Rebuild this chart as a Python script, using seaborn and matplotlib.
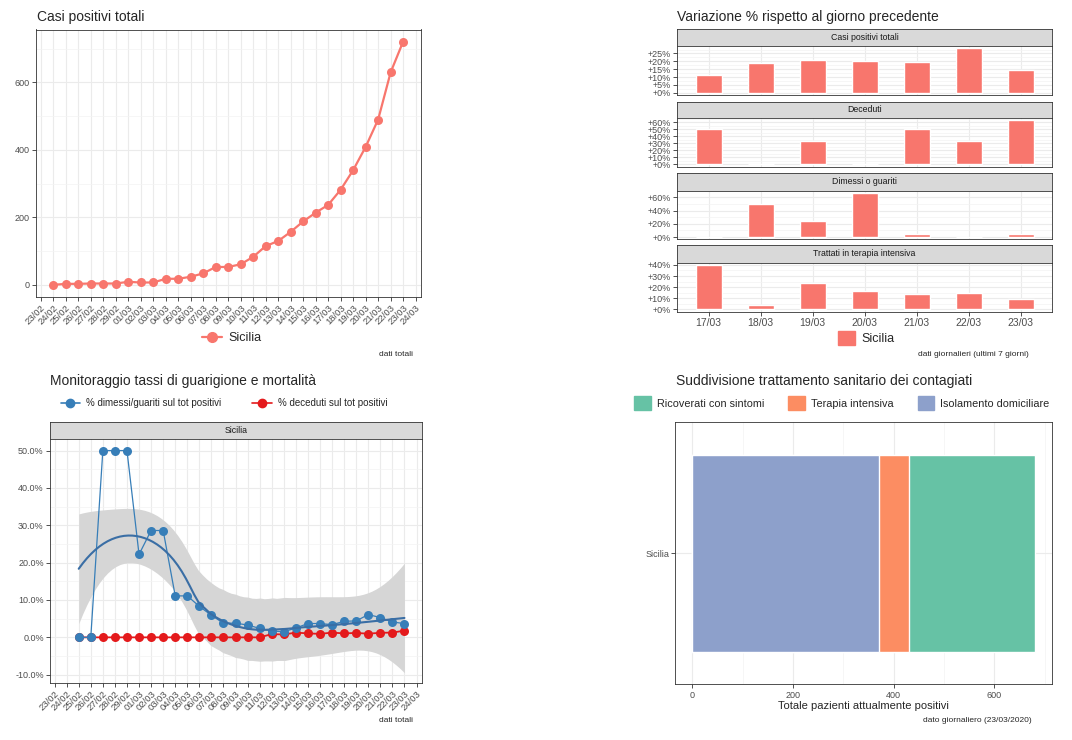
import numpy as np
import pandas as pd
import matplotlib
matplotlib.use('Agg')
import matplotlib.pyplot as plt
import matplotlib.dates as mdates
from matplotlib.ticker import MultipleLocator, FuncFormatter
from matplotlib.lines import Line2D
from matplotlib.patches import Patch
import seaborn as sns

sns.set_theme(style='white')
plt.rcParams['font.family'] = ['Liberation Sans', 'DejaVu Sans']

# ---- dati ----
giorni = pd.date_range('2020-02-24', '2020-03-23')
casi_totali = [0, 3, 3, 4, 4, 4, 9, 7, 7, 18, 18, 24, 34, 53, 53, 61, 83, 115, 130,
               157, 188, 214, 237, 282, 340, 409, 490, 630, 721]

giorni_tassi = pd.date_range('2020-02-25', '2020-03-23')
pct_guariti = [0, 0, 50, 50, 50, 22.2, 28.6, 28.6, 11.1, 11.1, 8.3, 5.9, 3.8, 3.8,
               3.3, 2.4, 1.7, 1.5, 2.5, 3.7, 3.7, 3.4, 4.3, 4.4, 6.1, 5.3, 4.1, 3.7]
pct_deceduti = [0, 0, 0, 0, 0, 0, 0, 0, 0, 0, 0, 0, 0, 0, 0, 0, 0.87, 0.77, 1.27,
                1.06, 0.93, 1.27, 1.06, 1.18, 0.98, 1.22, 1.27, 1.8]

giorni_var = ['17/03', '18/03', '19/03', '20/03', '21/03', '22/03', '23/03']
var_casi = [11.3, 19.0, 20.6, 20.3, 19.8, 28.5, 14.4]
var_deceduti = [50, 0, 33.3, 0, 50, 33.3, 62.5]
var_guariti = [0, 50, 25, 66.7, 4, 0, 4]
var_terapia = [40, 3.6, 24, 16.7, 14.3, 14.6, 9.1]

categorie = ['Ricoverati con sintomi', 'Terapia intensiva', 'Isolamento domiciliare']
pazienti = [250, 60, 371]
colori_cat = ['#66C2A5', '#FC8D62', '#8DA0CB']

ROSSO = '#F8766D'
W, H = 1072, 740
fig = plt.figure(figsize=(W / 100, H / 100), dpi=100)


def rect(x0, y0, x1, y1):
    return [x0 / W, 1 - y1 / H, (x1 - x0) / W, (y1 - y0) / H]


def stile_bw(ax):
    ax.set_facecolor('white')
    for s in ax.spines.values():
        s.set_visible(True)
        s.set_color('#333333')
        s.set_linewidth(0.6)
    ax.grid(True, which='major', color='#EBEBEB', lw=0.8)
    ax.grid(True, which='minor', color='#F3F3F3', lw=0.5)
    ax.tick_params(which='major', length=3, width=0.6, color='#333333', labelsize=6.5,
                   labelcolor='#4D4D4D', pad=1.5, left=True, bottom=True)
    ax.tick_params(which='minor', length=0)
    ax.set_axisbelow(True)
    ax.set_xlabel('')
    ax.set_ylabel('')


def striscia(x0, y0, x1, y1, testo):
    s = fig.add_axes(rect(x0, y0, x1, y1))
    s.set_facecolor('#D9D9D9')
    for sp in s.spines.values():
        sp.set_color('#333333')
        sp.set_linewidth(0.6)
    s.set_xticks([])
    s.set_yticks([])
    s.text(0.5, 0.5, testo, ha='center', va='center', fontsize=6.3, color='#1A1A1A',
           transform=s.transAxes)


def asse_date(ax):
    t0 = mdates.date2num(pd.Timestamp('2020-02-23'))
    ax.set_xlim(t0 - 0.38, t0 + 30.43)
    ax.xaxis.set_major_locator(mdates.DayLocator())
    ax.xaxis.set_major_formatter(mdates.DateFormatter('%d/%m'))
    ax.tick_params(axis='x', labelsize=6.8)
    for lab in ax.get_xticklabels():
        lab.set_rotation(45)
        lab.set_ha('right')
        lab.set_rotation_mode('anchor')


def loess(x, y, x_new, span=0.75):
    # loess locale di grado 2 (come geom_smooth) con banda di confidenza al 95%
    n = len(x)
    q = int(np.floor(span * n))

    def riga(x0):
        d = np.abs(x - x0)
        h = np.sort(d)[q - 1] * 1.0001
        w = np.clip(1 - (d / h) ** 3, 0, None) ** 3
        X = np.column_stack([np.ones(n), x - x0, (x - x0) ** 2])
        A = X.T @ (X * w[:, None])
        return np.linalg.solve(A, (X * w[:, None]).T)[0]

    L = np.array([riga(v) for v in x])
    res = y - L @ y
    M = (np.eye(n) - L).T @ (np.eye(n) - L)
    d1, d2 = np.trace(M), np.trace(M @ M)
    s = np.sqrt(res @ res / d1)
    df = d1 ** 2 / d2
    z = 1.959964
    tq = z + (z ** 3 + z) / (4 * df) + (5 * z ** 5 + 16 * z ** 3 + 3 * z) / (96 * df ** 2)
    Lg = np.array([riga(v) for v in x_new])
    fit = Lg @ y
    se = s * np.sqrt((Lg ** 2).sum(1))
    return fit, fit - tq * se, fit + tq * se


# ---- Casi positivi totali ----
ax1 = fig.add_axes(rect(36, 29.5, 421, 297))
sns.lineplot(x=giorni, y=casi_totali, color=ROSSO, lw=1.6, marker='o', markersize=6.5,
             markeredgewidth=0, ax=ax1)
stile_bw(ax1)
asse_date(ax1)
ax1.set_ylim(-36, 757)
ax1.yaxis.set_major_locator(MultipleLocator(200))
ax1.yaxis.set_minor_locator(MultipleLocator(100))
fig.text(37 / W, 1 - 17 / H, 'Casi positivi totali', fontsize=10, va='center', ha='left')
fig.legend(handles=[Line2D([], [], color=ROSSO, lw=1.6, marker='o', markersize=7)],
           labels=['Sicilia'], loc='center', bbox_to_anchor=(232 / W, 1 - 338 / H),
           frameon=False, fontsize=9, handlelength=1.6, handletextpad=0.5)
fig.text(413 / W, 1 - 355 / H, 'dati totali', fontsize=6, ha='right', va='center')

# ---- Variazione % ----
fig.text(677 / W, 1 - 17 / H, 'Variazione % rispetto al giorno precedente', fontsize=10,
         va='center', ha='left')
pannelli = [('Casi positivi totali', var_casi, 5, 29.3, 45.7, 95),
            ('Deceduti', var_deceduti, 10, 101.7, 118.3, 166.7),
            ('Dimessi o guariti', var_guariti, 20, 173.3, 190.7, 239.3),
            ('Trattati in terapia intensiva', var_terapia, 10, 245.3, 262.7, 311.7)]
for i, (nome, valori, passo, ys, yp, yb) in enumerate(pannelli):
    striscia(677.3, ys, 1052, yp, nome)
    ax = fig.add_axes(rect(677.3, yp, 1052, yb))
    sns.barplot(x=giorni_var, y=valori, color=ROSSO, saturation=1, width=0.5, ax=ax)
    stile_bw(ax)
    ax.set_xlim(-0.6, 6.6)
    top = max(valori)
    ax.set_ylim(-0.05 * top, 1.05 * top)
    ax.yaxis.set_major_locator(MultipleLocator(passo))
    ax.yaxis.set_minor_locator(MultipleLocator(passo / 2))
    ax.yaxis.set_major_formatter(FuncFormatter(lambda v, p: f'+{v:.0f}%'))
    if i < 3:
        ax.tick_params(axis='x', labelbottom=False, length=0)
    else:
        ax.tick_params(axis='x', labelsize=7.5)
fig.legend(handles=[Patch(color=ROSSO)], labels=['Sicilia'], loc='center',
           bbox_to_anchor=(866 / W, 1 - 338 / H), frameon=False, fontsize=9,
           handlelength=1.4, handleheight=1.4, handletextpad=0.5)
fig.text(1029 / W, 1 - 355 / H, 'dati giornalieri (ultimi 7 giorni)', fontsize=6,
         ha='right', va='center')

# ---- Monitoraggio tassi ----
fig.text(50 / W, 1 - 381 / H, 'Monitoraggio tassi di guarigione e mortalità', fontsize=10,
         va='center', ha='left')
striscia(50, 422.3, 421.7, 439, 'Sicilia')
ax3 = fig.add_axes(rect(50, 439, 421.7, 683.3))
xg = np.arange(len(giorni_tassi), dtype=float)
griglia = np.linspace(xg[0], xg[-1], 80)
fit, basso, alto = loess(xg, np.array(pct_guariti), griglia)
date_griglia = giorni_tassi[0] + pd.to_timedelta(griglia, unit='D')
ax3.fill_between(date_griglia, basso, alto, color='#D6D6D6', lw=0)
sns.lineplot(x=giorni_tassi, y=pct_deceduti, color='#E41A1C', lw=1.3, marker='o',
             markersize=6.5, markeredgewidth=0, ax=ax3)
sns.lineplot(x=giorni_tassi, y=pct_guariti, color='#377EB8', lw=0.9, marker='o',
             markersize=6.5, markeredgewidth=0, ax=ax3)
sns.lineplot(x=date_griglia, y=fit, color='#3A6EA5', lw=1.5, ax=ax3)
stile_bw(ax3)
asse_date(ax3)
ax3.set_ylim(-12.3, 53.1)
ax3.yaxis.set_major_locator(MultipleLocator(10))
ax3.yaxis.set_minor_locator(MultipleLocator(5))
ax3.yaxis.set_major_formatter(FuncFormatter(lambda v, p: f'{v:.1f}%'))
fig.legend(handles=[Line2D([], [], color='#377EB8', lw=1.2, marker='o', markersize=6),
                    Line2D([], [], color='#E41A1C', lw=1.2, marker='o', markersize=6)],
           labels=['% dimessi/guariti sul tot positivi', '% deceduti sul tot positivi'],
           loc='center left', bbox_to_anchor=(52 / W, 1 - 403 / H), ncol=2, frameon=False,
           fontsize=7, handlelength=2.0, handletextpad=0.6, columnspacing=3.2)
fig.text(413 / W, 1 - 720 / H, 'dati totali', fontsize=6, ha='right', va='center')

# ---- Suddivisione trattamento ----
fig.text(676 / W, 1 - 381 / H, 'Suddivisione trattamento sanitario dei contagiati',
         fontsize=10, va='center', ha='left')
ax4 = fig.add_axes(rect(675.3, 422.3, 1052.3, 684.3))
cumulati = np.cumsum(pazienti[::-1])[::-1]
for tot, col in zip(cumulati, colori_cat):
    sns.barplot(x=[tot], y=['Sicilia'], color=col, saturation=1, width=0.9, orient='h', ax=ax4)
stile_bw(ax4)
ax4.set_xlim(-34, 715)
ax4.set_ylim(0.6, -0.6)
ax4.xaxis.set_major_locator(MultipleLocator(200))
ax4.xaxis.set_minor_locator(MultipleLocator(100))
ax4.set_xlabel('Totale pazienti attualmente positivi', fontsize=8, labelpad=1)
fig.legend(handles=[Patch(color=c) for c in colori_cat], labels=categorie, loc='center',
           bbox_to_anchor=(842 / W, 1 - 403 / H), ncol=3, frameon=False, fontsize=7.8,
           handlelength=1.5, handleheight=1.5, handletextpad=0.6, columnspacing=2.2)
fig.text(1032 / W, 1 - 721 / H, 'dato giornaliero (23/03/2020)', fontsize=6,
         ha='right', va='center')

fig.savefig('out.png', dpi=100, facecolor='white')
